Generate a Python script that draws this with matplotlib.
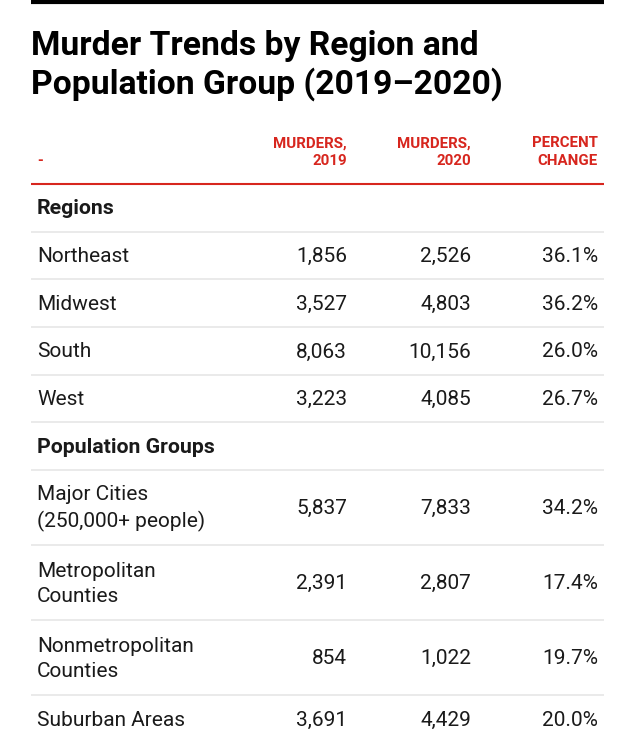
import matplotlib.pyplot as plt

title = "Murder Trends by Region and\nPopulation Group (2019\u20132020)"
col_headers = ["MURDERS,\n2019", "MURDERS,\n2020", "PERCENT\nCHANGE"]

sections = ["Regions", "Population Groups"]
region_names = ["Northeast", "Midwest", "South", "West"]
region_2019 = [1856, 3527, 8063, 3223]
region_2020 = [2526, 4803, 10156, 4085]
region_pct = [36.1, 36.2, 26.0, 26.7]

group_names = ["Major Cities\n(250,000+ people)", "Metropolitan\nCounties",
               "Nonmetropolitan\nCounties", "Suburban Areas"]
group_2019 = [5837, 2391, 854, 3691]
group_2020 = [7833, 2807, 1022, 4429]
group_pct = [34.2, 17.4, 19.7, 20.0]

RED = "#d7261e"
INK = "#1a1a1a"
GRID = "#e6e6e6"
FONT = "Roboto"

fig = plt.figure(figsize=(6.35, 7.5), dpi=100)
ax = fig.add_axes([0, 0, 1, 1])
ax.set_xlim(0, 635)
ax.set_ylim(750, 0)
ax.axis("off")

left, right = 31, 604
label_x = 37
col_x = [347, 471, 598]

ax.plot([left, right], [1.5, 1.5], color="black", lw=3, solid_capstyle="butt")
ax.text(left, 30, title, fontsize=24.2, fontweight="bold", family=FONT,
        color="black", va="top", ha="left", linespacing=1.2)

# header
ax.text(label_x, 161, "-", fontsize=10.8, fontweight="bold", color=RED,
        family=FONT, va="center", ha="left")
for x, h in zip(col_x, col_headers):
    ax.text(x, 152, h, fontsize=10.8, fontweight="bold", color=RED,
            family=FONT, va="center", ha="right", linespacing=1.35)
ax.plot([left, right], [184, 184], color=RED, lw=1.5, solid_capstyle="butt")

single_h, double_h = 47.7, 75
rows = [("section", sections[0], None, None, None)]
for n, a, b, p in zip(region_names, region_2019, region_2020, region_pct):
    rows.append(("data", n, a, b, p))
rows.append(("section", sections[1], None, None, None))
for n, a, b, p in zip(group_names, group_2019, group_2020, group_pct):
    rows.append(("data", n, a, b, p))

y = 184
for i, (kind, name, a, b, p) in enumerate(rows):
    h = double_h if "\n" in name else single_h
    cy = y + h / 2 + 1
    if kind == "section":
        ax.text(label_x, cy, name, fontsize=15.3, fontweight="bold", color=INK,
                family=FONT, va="center", ha="left")
    else:
        ax.text(label_x, cy, name, fontsize=15, color=INK, family=FONT,
                va="center", ha="left", linespacing=1.42)
        vals = [f"{a:,}", f"{b:,}", f"{p:.1f}%"]
        for x, v in zip(col_x, vals):
            ax.text(x, cy, v, fontsize=15, color=INK, family=FONT,
                    va="center", ha="right")
    y += h
    if i < len(rows) - 1:
        ax.plot([left, right], [y, y], color=GRID, lw=1.2, solid_capstyle="butt")

fig.savefig("out.png", dpi=100)
